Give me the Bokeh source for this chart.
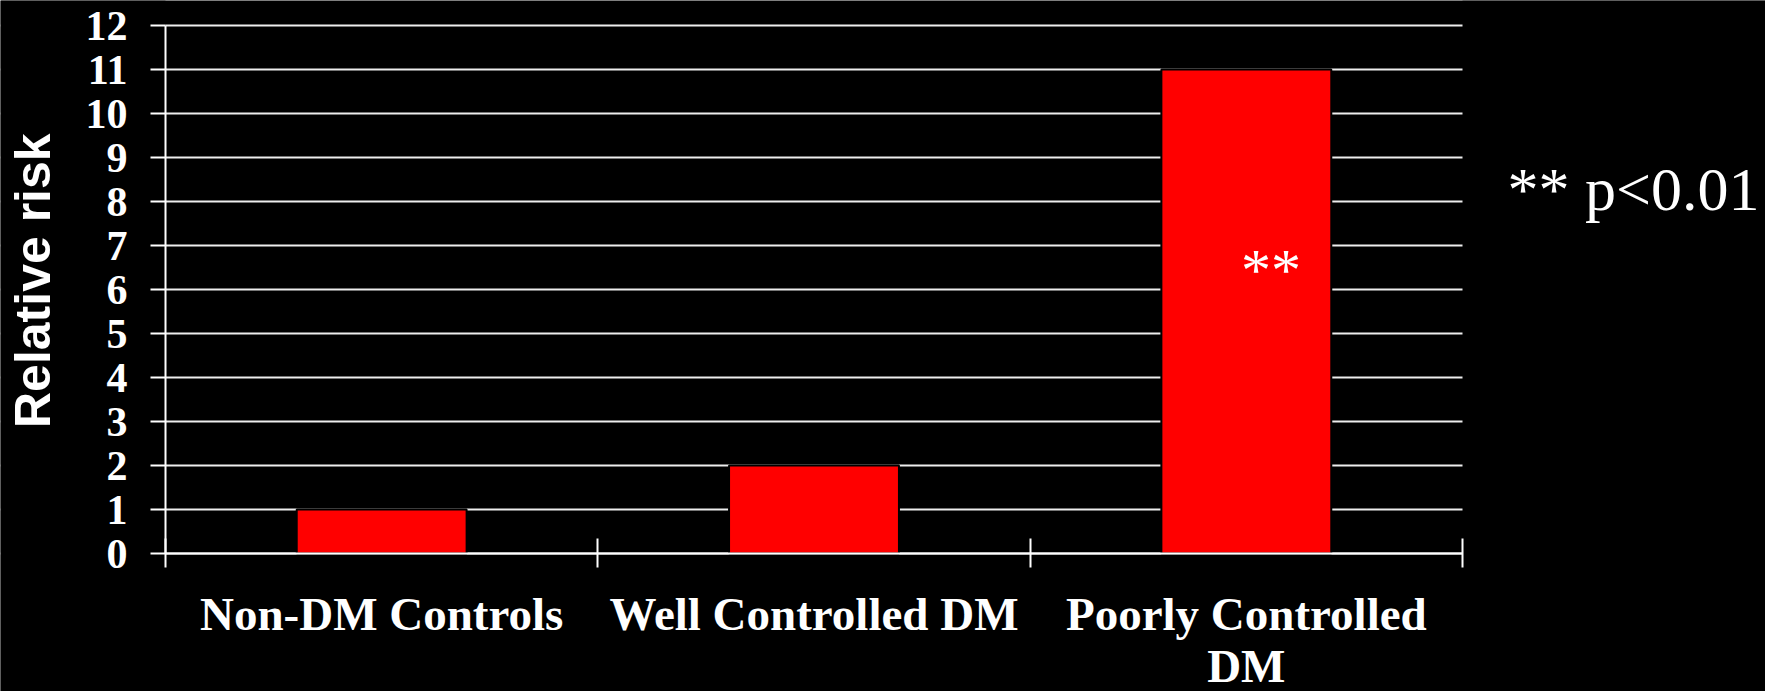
import math
from bokeh.plotting import figure
from bokeh.models import Range1d, FixedTicker, Label, ColumnDataSource, BoxAnnotation
from bokeh.embed import file_html
from bokeh.resources import INLINE

categories = ["Non-DM Controls", "Well Controlled DM", "Poorly Controlled DM"]
category_labels = ["Non-DM Controls", "Well Controlled DM", "Poorly Controlled\nDM"]
relative_risk = [1, 2, 11]
y_ticks = list(range(0, 13))
y_title = "Relative risk"
note = "** p<0.01"

n = len(categories)
centers = [i + 0.5 for i in range(n)]
boundaries = [i for i in range(n + 1)]

# the frame covers the whole canvas; axes/grid are placed at the data area
W, H = 1765, 691
left, top = 165, 25
plot_w, plot_h = 1297, 528
y_max = 12
ux = plot_w / n        # px per category
uy = plot_h / y_max    # px per unit
x_range = Range1d(-left / ux, (W - left) / ux)
y_range = Range1d(-(H - top - plot_h) / uy, y_max + top / uy)

p = figure(width=W, height=H, output_backend="svg", toolbar_location=None,
           x_range=x_range, y_range=y_range,
           background_fill_color="black", border_fill_color="black",
           min_border_left=0, min_border_right=0, min_border_top=0, min_border_bottom=0)
p.outline_line_color = None

# grid, limited to the category area
p.xgrid.grid_line_color = None
p.ygrid.grid_line_color = "#EDEDED"
p.ygrid.grid_line_width = 2
p.ygrid.ticker = FixedTicker(ticks=y_ticks)
p.ygrid.level = "underlay"
p.add_layout(BoxAnnotation(left=n, fill_color="black", fill_alpha=1, line_color=None, level="underlay"))
p.add_layout(BoxAnnotation(right=0, fill_color="black", fill_alpha=1, line_color=None, level="underlay"))

src = ColumnDataSource(dict(x=centers, top=relative_risk, cat=categories))
p.vbar(x="x", top="top", width=0.393, bottom=0, source=src,
       fill_color="#FF0000", line_color="black", line_width=2)

xa = p.xaxis[0]
xa.fixed_location = 0
xa.bounds = (0, n)
xa.ticker = FixedTicker(ticks=centers, minor_ticks=boundaries)
xa.major_label_overrides = {c: lab for c, lab in zip(centers, category_labels)}
xa.major_tick_in = 0
xa.major_tick_out = 0
xa.minor_tick_in = 15
xa.minor_tick_out = 14
xa.minor_tick_line_color = "white"
xa.minor_tick_line_width = 2
xa.axis_line_color = "white"
xa.axis_line_width = 2
xa.major_label_text_color = "white"
xa.major_label_text_font = "Liberation Serif"
xa.major_label_text_font_style = "bold"
xa.major_label_text_font_size = "47px"
xa.major_label_standoff = 20
xa.major_label_text_line_height = 1.0

ya = p.yaxis[0]
ya.fixed_location = 0
ya.bounds = (0, y_max)
ya.ticker = FixedTicker(ticks=y_ticks)
ya.major_tick_in = 0
ya.major_tick_out = 15
ya.major_tick_line_color = "white"
ya.major_tick_line_width = 2
ya.minor_tick_line_color = None
ya.axis_line_color = "white"
ya.axis_line_width = 2
ya.major_label_text_color = "white"
ya.major_label_text_font = "Liberation Serif"
ya.major_label_text_font_style = "bold"
ya.major_label_text_font_size = "42px"
ya.major_label_standoff = 23

# y title, centred on the value axis
p.add_layout(Label(x=-133 / ux, y=y_max / 2 + 0.2, text=y_title, angle=math.pi / 2,
                   text_color="white", text_font="Liberation Sans", text_font_style="bold",
                   text_font_size="50px", text_align="center", text_baseline="middle"))

# significance marks
p.add_layout(Label(x=centers[2] + 0.057, y=6.44, text="**", text_color="white",
                   text_font="Liberation Serif", text_font_size="60px",
                   text_align="center", text_baseline="middle"))
p.add_layout(Label(x=n + 45 / ux, y=(553 - 188) / uy, text=note, text_color="white",
                   text_font="Liberation Serif", text_font_size="62px",
                   text_align="left", text_baseline="alphabetic"))

open("out.html", "w").write(file_html(p, INLINE))
